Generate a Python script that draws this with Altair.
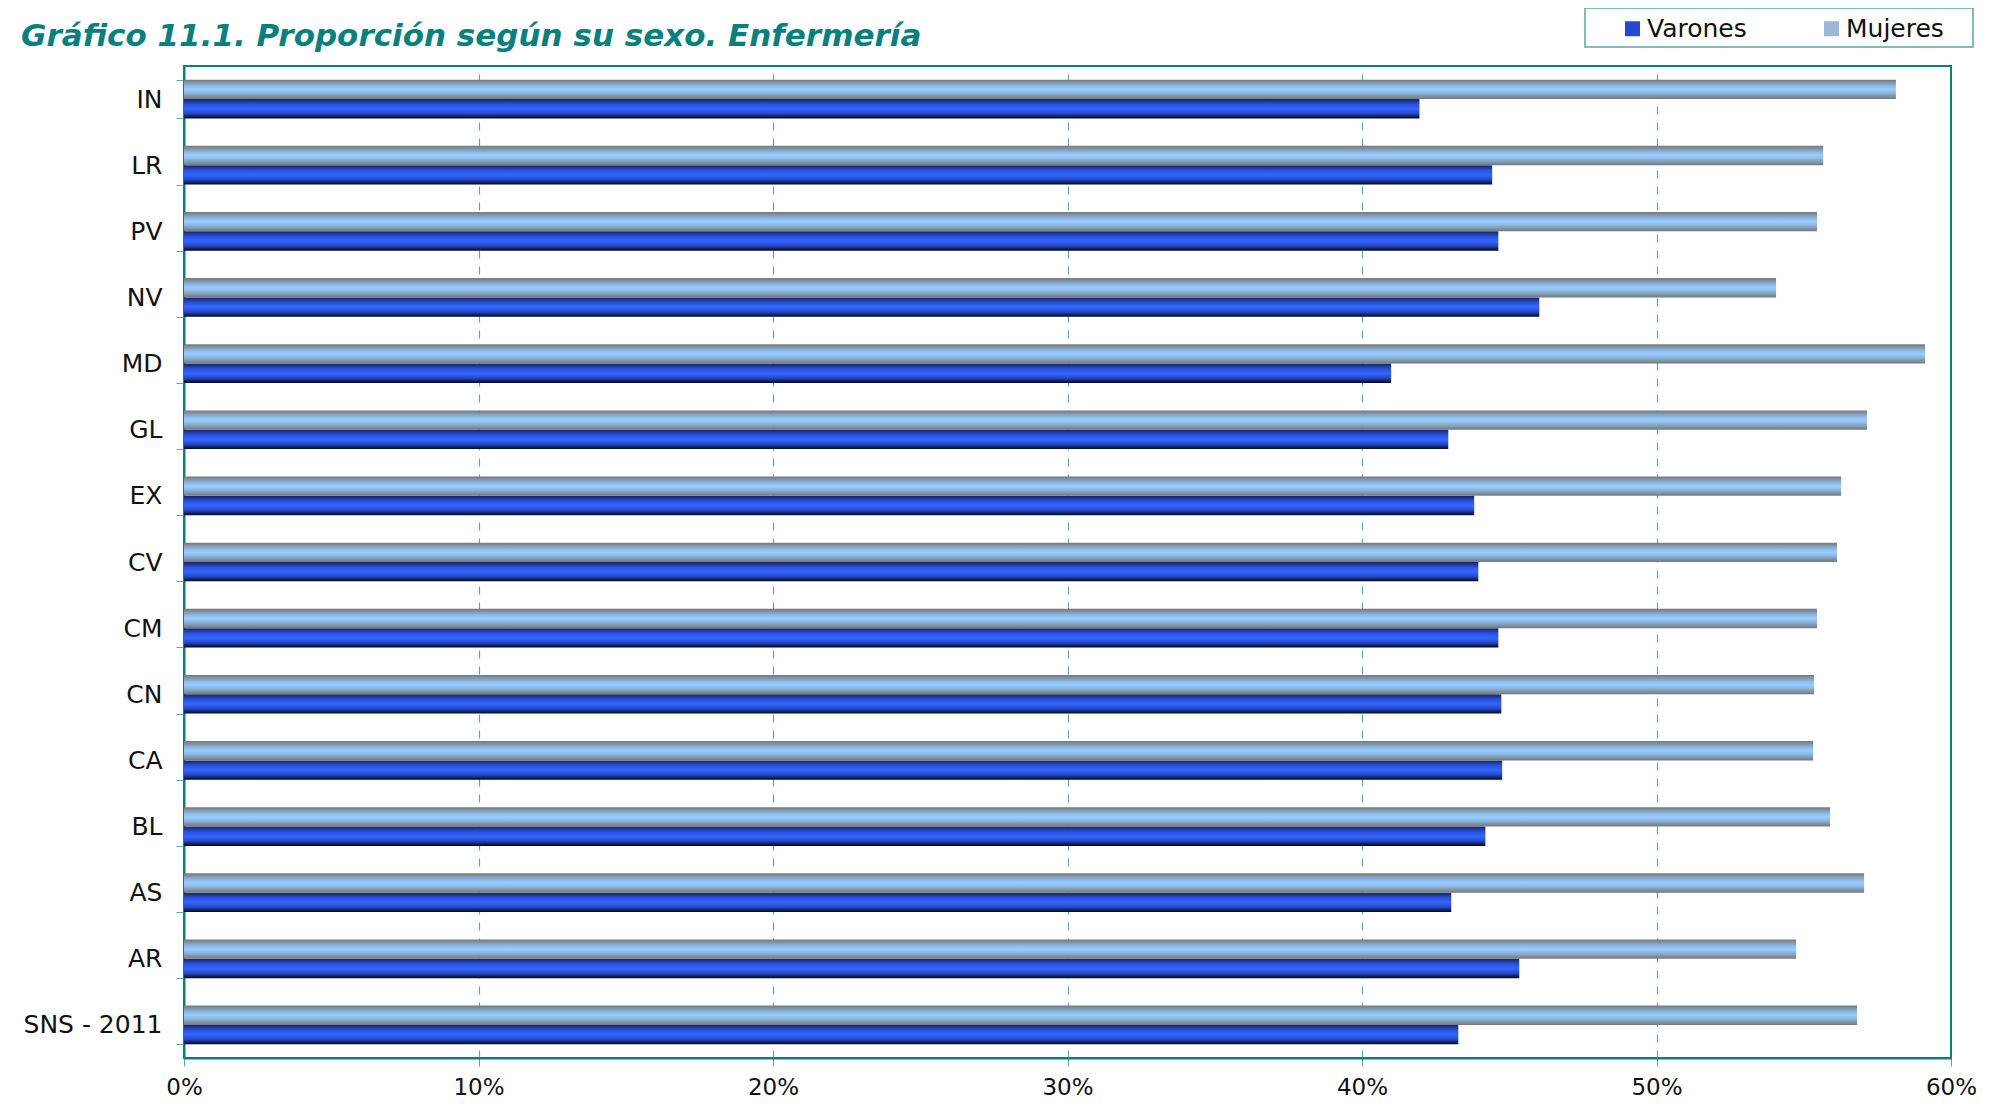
import altair as alt
import pandas as pd

# ---- data ----
categories = ["IN", "LR", "PV", "NV", "MD", "GL", "EX", "CV", "CM", "CN", "CA", "BL", "AS", "AR", "SNS - 2011"]
varones = [41.95, 44.42, 44.63, 46.02, 40.99, 42.93, 43.81, 43.95, 44.63, 44.73, 44.76, 44.19, 43.03, 45.34, 43.27]
mujeres = [58.13, 55.66, 55.45, 54.06, 59.12, 57.15, 56.27, 56.13, 55.45, 55.35, 55.32, 55.89, 57.05, 54.74, 56.81]
series = ["Varones", "Mujeres"]
x_ticks = [0, 0.1, 0.2, 0.3, 0.4, 0.5, 0.6]
title_text = "Gráfico 11.1. Proporción según su sexo. Enfermería"

rows = []
for c, v, m in zip(categories, varones, mujeres):
    rows.append({"region": c, "sexo": "Varones", "valor": v / 100})
    rows.append({"region": c, "sexo": "Mujeres", "valor": m / 100})
df = pd.DataFrame(rows)

TEAL = "#0a7f7f"
TEAL_L = "#5aa8a8"
FONT = "DejaVu Sans"

grad_v = alt.LinearGradient(
    gradient="linear", x1=0, x2=0, y1=0, y2=1,
    stops=[
        alt.GradientStop(color="#142466", offset=0),
        alt.GradientStop(color="#2a52e0", offset=0.28),
        alt.GradientStop(color="#3366ff", offset=0.5),
        alt.GradientStop(color="#2448c8", offset=0.75),
        alt.GradientStop(color="#000818", offset=1),
    ],
)
grad_m = alt.LinearGradient(
    gradient="linear", x1=0, x2=0, y1=0, y2=1,
    stops=[
        alt.GradientStop(color="#777777", offset=0),
        alt.GradientStop(color="#8dbde9", offset=0.35),
        alt.GradientStop(color="#99ccff", offset=0.5),
        alt.GradientStop(color="#8dbde9", offset=0.65),
        alt.GradientStop(color="#777777", offset=1),
    ],
)

y_enc = alt.Y(
    "region:N",
    sort=categories,
    scale=alt.Scale(domain=categories, paddingInner=0.415, paddingOuter=0.2075),
    axis=alt.Axis(
        title=None, grid=False, tickBand="extent", tickSize=8, tickColor=TEAL_L,
        domainColor=TEAL, domainWidth=2, labelFont=FONT, labelFontSize=25,
        labelColor="#111111", labelPadding=14,
    ),
)

bars = alt.Chart(df).mark_bar().encode(
    x=alt.X(
        "valor:Q",
        scale=alt.Scale(domain=[0, 0.6], nice=False),
        axis=alt.Axis(
            title=None, values=x_ticks, format=".0%", grid=True, gridColor=TEAL_L,
            gridDash=[8, 8], gridWidth=1.2,
            gridOpacity={"condition": {"test": "datum.value <= 0.001 || datum.value >= 0.599", "value": 0}, "value": 1},
            tickSize=8, tickColor=TEAL_L, labelFlush=False,
            domainColor=TEAL, domainWidth=2, labelFont=FONT, labelFontSize=23,
            labelColor="#111111", labelPadding=10,
        ),
    ),
    y=y_enc,
    yOffset=alt.YOffset("sexo:N", scale=alt.Scale(domain=["Mujeres", "Varones"], paddingInner=0, paddingOuter=0)),
    color=alt.condition(alt.datum.sexo == "Mujeres", alt.value(grad_m), alt.value(grad_v)),
)

# legend frame
legend_box = alt.Chart(pd.DataFrame({"k": [0]})).mark_rect(
    fill="white", stroke=TEAL_L, strokeWidth=1.5
).encode(x=alt.value(1401), x2=alt.value(1789), y=alt.value(-58), y2=alt.value(-19))

# legend carrier (invisible marks)
legend_layer = alt.Chart(pd.DataFrame({"sexo": series})).mark_square(opacity=0).encode(
    x=alt.value(0), y=alt.value(0),
    color=alt.Color(
        "sexo:N",
        scale=alt.Scale(domain=series, range=["#2448d8", "#9ab8d6"]),
        legend=alt.Legend(
            title=None, orient="none", legendX=1436, legendY=-50, direction="horizontal",
            columns=2, symbolType="square", symbolSize=225, symbolOpacity=1,
            symbolStrokeWidth=0, labelFont=FONT, labelFontSize=25, labelColor="#111111",
            labelOffset=2, columnPadding=72, padding=0,
        ),
    ),
)

title_mark = alt.Chart(pd.DataFrame({"t": [title_text]})).mark_text(
    align="left", baseline="alphabetic", font=FONT, fontSize=31, fontWeight="bold",
    fontStyle="italic", color=TEAL,
).encode(x=alt.value(-163), y=alt.value(-20), text="t:N")

chart = alt.layer(bars, legend_box, legend_layer, title_mark).properties(
    width=1767, height=992,
    autosize=alt.AutoSizeParams(type="none"),
    padding={"left": 176, "top": 58, "right": 41, "bottom": 43},
).configure(background="white").configure_view(stroke=TEAL, strokeWidth=2)

chart.save("out.html", embed_options={"renderer": "svg", "actions": False})
